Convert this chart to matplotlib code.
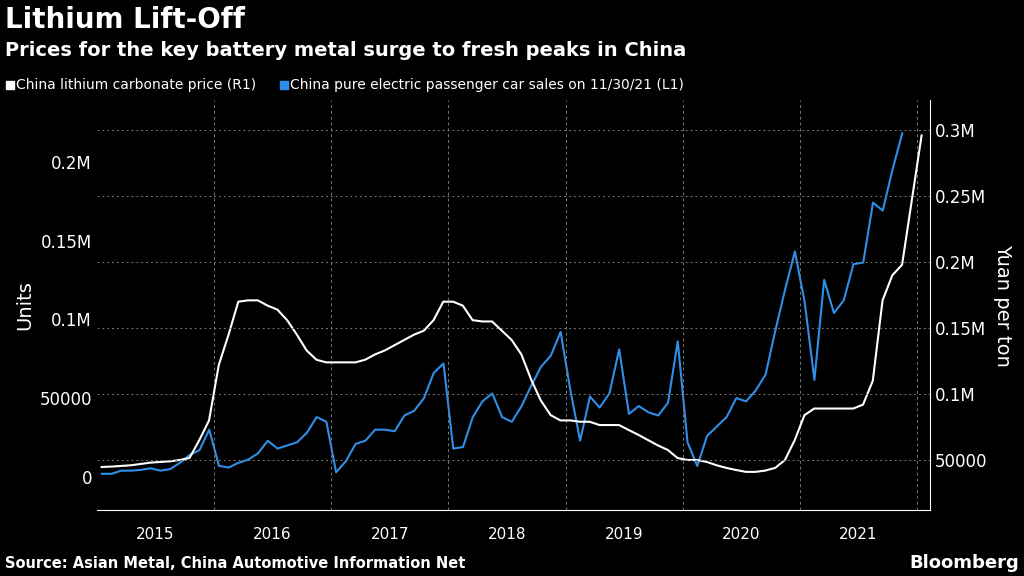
import numpy as np
import matplotlib.pyplot as plt

# monthly blue series: China pure electric passenger car sales (units), Jan 2015 - Nov 2021
ev_sales = [
    2000, 2000, 4000, 4000, 4500, 5500, 4000, 5000, 9000, 14000, 17000, 30000,
    7000, 6000, 9000, 11000, 15000, 23000, 18000, 20000, 22000, 28000, 38000, 35000,
    3000, 10000, 21000, 23000, 30000, 30000, 29000, 39000, 42000, 50000, 66000, 72000,
    18000, 19000, 38000, 48000, 53000, 38000, 35000, 45000, 58000, 70000, 77000, 92000,
    55000, 23000, 51000, 44000, 53000, 81000, 40000, 45000, 41000, 39000, 47000, 86000,
    22000, 7000, 26000, 32000, 38000, 50000, 48000, 55000, 65000, 93000, 119000, 143000,
    111000, 61600, 125000, 104000, 112000, 135000, 136000, 174000, 169000, 195000, 218000,
]
# monthly white series: lithium carbonate price (yuan/ton), Jan 2015 - Dec 2021 (+ Jan 2022)
li_price = [
    44700, 45000, 45500, 46000, 47000, 48000, 48500, 49000, 50000, 51500, 65000, 80000,
    122000, 145000, 170000, 171000, 171000, 167000, 164000, 156000, 145000, 133000, 126000, 124000,
    124000, 124000, 124000, 126000, 130000, 133000, 137000, 141000, 145000, 148000, 156000, 170000,
    170000, 167000, 156000, 155000, 155000, 148000, 141000, 130000, 111000, 95000, 84000, 80000,
    80000, 79000, 79000, 76500, 76500, 76500, 72700, 69000, 65000, 61000, 57600, 51500,
    50000, 50000, 48500, 46000, 44000, 42400, 41000, 41000, 42000, 44000, 50000, 65000,
    84000, 89000, 89000, 89000, 89000, 89000, 92000, 110000, 171000, 190000, 198000, 247000,
    296000,
]
years = [2015, 2016, 2017, 2018, 2019, 2020, 2021]

t_ev = 2015 + (np.arange(len(ev_sales)) + 0.5) / 12
t_li = 2015 + np.arange(len(li_price)) / 12 + 0.04

BLUE = '#2f8fe8'
plt.rcParams['font.family'] = ['DejaVu Sans']
fig = plt.figure(figsize=(10.24, 5.76), dpi=100, facecolor='black')
ax = fig.add_axes([0.0947, 0.1146, 0.8133, 0.7114], facecolor='black')
ax2 = ax.twinx()

ax.plot(t_ev, ev_sales, color=BLUE, lw=1.5)
ax2.plot(t_li, li_price, color='white', lw=1.5)

ax.set_xlim(2015.0, 2022.11)
ax.set_ylim(-20950, 239000)
ax2.set_ylim(12100, 322700)

ax.set_yticks([0, 50000, 100000, 150000, 200000])
ax.set_yticklabels(['0', '50000', '0.1M', '0.15M', '0.2M'])
ax2.set_yticks([50000, 100000, 150000, 200000, 250000, 300000])
ax2.set_yticklabels(['50000', '0.1M', '0.15M', '0.2M', '0.25M', '0.3M'])
ax.set_xticks([y + 0.5 for y in years])
ax.set_xticklabels([str(y) for y in years])
for yb in years[1:] + [2022]:
    ax.axvline(yb, color='#777777', ls=(0, (3, 3)), lw=0.7)
for v in [50000, 100000, 150000, 200000, 250000, 300000]:
    ax2.axhline(v, color='#777777', ls=(0, (2, 3)), lw=0.7)

for a in (ax, ax2):
    a.tick_params(colors='white', labelsize=12, length=0)
    for s in a.spines.values():
        s.set_visible(False)
ax.tick_params(axis='x', labelsize=11, pad=12)
ax2.spines['right'].set_visible(True)
ax2.spines['right'].set_color('white')
ax.spines['bottom'].set_visible(True)
ax.spines['bottom'].set_color('white')
ax.set_ylabel('Units', color='white', fontsize=14)
ax2.set_ylabel('Yuan per ton', color='white', fontsize=14, rotation=270, labelpad=18)

fig.text(0.005, 0.965, 'Lithium Lift-Off', color='white', fontsize=20, fontweight='bold', va='center')
fig.text(0.005, 0.912, 'Prices for the key battery metal surge to fresh peaks in China',
         color='white', fontsize=14, fontweight='bold', va='center')
fig.patches.append(plt.Rectangle((0.006, 0.845), 0.008, 0.014, color='white', transform=fig.transFigure))
fig.text(0.016, 0.852, 'China lithium carbonate price (R1)', color='white', fontsize=10, va='center')
fig.patches.append(plt.Rectangle((0.273, 0.845), 0.008, 0.014, color=BLUE, transform=fig.transFigure))
fig.text(0.283, 0.852, 'China pure electric passenger car sales on 11/30/21 (L1)', color='white', fontsize=10, va='center')
fig.text(0.005, 0.022, 'Source: Asian Metal, China Automotive Information Net', color='white',
         fontsize=10.5, fontweight='bold', va='center')
fig.text(0.995, 0.022, 'Bloomberg', color='white', fontsize=13, fontweight='bold', va='center', ha='right')

fig.savefig('out.png', facecolor='black')
